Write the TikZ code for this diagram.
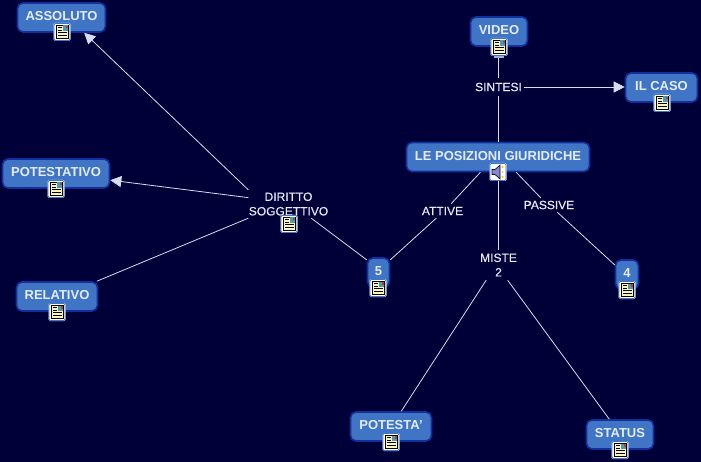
\documentclass[tikz,border=0pt]{standalone}
\usepackage{fontspec}
\setmainfont{Liberation Sans}
\newfontfamily\linkfont[FakeBold=0.35]{Liberation Sans}
\definecolor{bgc}{HTML}{000038}
\definecolor{boxc}{HTML}{3F75C4}
\definecolor{edgec}{HTML}{12309C}
\definecolor{linec}{HTML}{D4DEF0}
\definecolor{txtc}{HTML}{E4ECFA}
\definecolor{pagec}{HTML}{FBF6C0}
\usetikzlibrary{arrows.meta}
\newcommand{\boxlabel}[1]{\raisebox{2.4pt}{#1}}
\tikzset{
  concept/.style={draw=edgec,line width=1.6pt,fill=boxc,rounded corners=5.5pt,text=txtc,
    font=\fontsize{13}{15}\selectfont\bfseries,inner sep=0pt,minimum height=29pt},
  linking/.style={text=txtc,font=\linkfont\fontsize{12}{14.5}\selectfont,inner sep=0pt,align=center,
    minimum width=#1},
  linking/.default=30pt,
  conn/.style={draw=linec,line width=0.8pt},
  arrowconn/.style={conn,-{Triangle[length=11pt,width=11pt,fill=linec]}},
  docicon/.style={draw=none,fill=none,minimum width=17pt,minimum height=18pt,inner sep=0pt,
    path picture={
      \begin{scope}[shift={(path picture bounding box.center)},x=1pt,y=1pt]
        \fill[rounded corners=1.5pt,fill=white] (-8.5,-9) rectangle (8.5,9);
        \draw[draw=boxc,line width=0.8pt,rounded corners=1.2pt] (-8,-8.5) rectangle (8,8.5);
        \fill[pagec] (-5.5,-6.5) rectangle (6,6.5);
        \draw[black,line width=0.6pt] (-5.5,-6.5) rectangle (6,6.5);
        \fill[white!50!green!60!blue] (0.5,1) rectangle (6,6.5);
        \fill[red!60!gray] (3.5,3.5) rectangle (5.5,6);
        \draw[black,line width=0.6pt] (-4,4.5) -- (0,4.5) (-4,2) -- (0,2) (-4,-0.5) -- (4.5,-0.5) (-4,-3) -- (4.5,-3);
      \end{scope}}},
  soundicon/.style={draw=none,fill=none,minimum width=17pt,minimum height=18pt,inner sep=0pt,
    path picture={
      \begin{scope}[shift={(path picture bounding box.center)},x=1pt,y=1pt]
        \fill[rounded corners=1.5pt,fill=white] (-8.5,-9) rectangle (8.5,9);
        \draw[draw=boxc,line width=0.6pt,rounded corners=1.2pt] (-8,-8.5) rectangle (8,8.5);
        \fill[blue!35!gray!70!white,draw=black!70!blue,line width=0.6pt] (-6,-2.5) -- (-3,-2.5) -- (2,-7) -- (2,7) -- (-3,2.5) -- (-6,2.5) -- cycle;
        \fill[yellow!70!orange] (4.5,5) circle (1.4) (4.5,0) circle (1.1) (4.5,-5) circle (1.4);
      \end{scope}}},
  standicon/.style={fill=linec!60!boxc,inner sep=0pt,minimum width=10pt,minimum height=3pt}
}
\begin{document}
\begin{tikzpicture}[x=1pt,y=-1pt]
\path[use as bounding box,fill=bgc] (0,0) rectangle (701,462);
% concepts
\node[concept,minimum width=88pt] (ass) at (61.5,17.5) {\boxlabel{ASSOLUTO}};
\node[concept,minimum width=57pt] (vid) at (499,31.5) {\boxlabel{VIDEO}};
\node[concept,minimum width=72pt] (cas) at (661.5,87.5) {\boxlabel{IL CASO}};
\node[concept,minimum width=183pt] (pos) at (498,157) {\boxlabel{LE POSIZIONI GIURIDICHE}};
\node[concept,minimum width=107pt] (ptv) at (56,173.5) {\boxlabel{POTESTATIVO}};
\node[concept,minimum width=81pt] (rel) at (57,296.5) {\boxlabel{RELATIVO}};
\node[concept,minimum width=22pt] (five) at (378.5,272.5) {\boxlabel{5}};
\node[concept,minimum width=23pt] (four) at (627,274.5) {\boxlabel{4}};
\node[concept,minimum width=81pt] (pta) at (391,426.5) {\boxlabel{POTESTA'}};
\node[concept,minimum width=67pt] (sta) at (620,434.5) {\boxlabel{STATUS}};
% linking phrases
\node[linking=50pt,minimum height=18pt] (sin) at (498.5,87) {SINTESI};
\node[linking=80pt,minimum height=28pt] (dir) at (288.5,204) {DIRITTO\\SOGGETTIVO};
\node[linking=44pt,minimum height=14pt] (att) at (442.5,211) {ATTIVE};
\node[linking=52pt,minimum height=14pt] (pas) at (549,205) {PASSIVE};
\node[linking=36pt,minimum height=30pt] (mis) at (498.5,265) {MISTE\\2};
% connectors
\draw[arrowconn] (dir.north west) -- (ass.-34);
\draw[arrowconn] (dir.171) -- (ptv.-7);
\draw[conn] (dir.south west) -- (rel.21);
\draw[conn] (dir.-32) -- (five.133);
\draw[conn] (five.47) -- (att.-131);
\draw[conn] (att.40) -- (pos.-139);
\draw[conn] (pos.-40) -- (pas.139);
\draw[conn] (pas.-41) -- (four.142);
\draw[conn] (mis.north) -- (mis.north |- pos.south);
\draw[conn] (mis.-129) -- (pta.56);
\draw[conn] (mis.-59) -- (sta.125);
\draw[conn] (sin.south) -- (sin.south |- pos.north);
\draw[conn] (sin.north) -- (sin.north |- vid.south);
\draw[arrowconn] (sin.east) -- (sin.east -| cas.west);
% icons
\node[standicon] (vidstand) at (499,57) {};
\node[docicon] (iass) at (62,32) {};
\node[docicon] (ivid) at (499,47) {};
\node[docicon] (icas) at (662,103) {};
\node[soundicon] (ipos) at (498,172) {};
\node[docicon] (iptv) at (56,189) {};
\node[docicon] (irel) at (57,312) {};
\node[docicon] (idir) at (289,224) {};
\node[docicon] (ifive) at (378,288) {};
\node[docicon] (ifour) at (627,290) {};
\node[docicon] (ipta) at (391,442) {};
\node[docicon] (ista) at (620,450) {};
\end{tikzpicture}
\end{document}
